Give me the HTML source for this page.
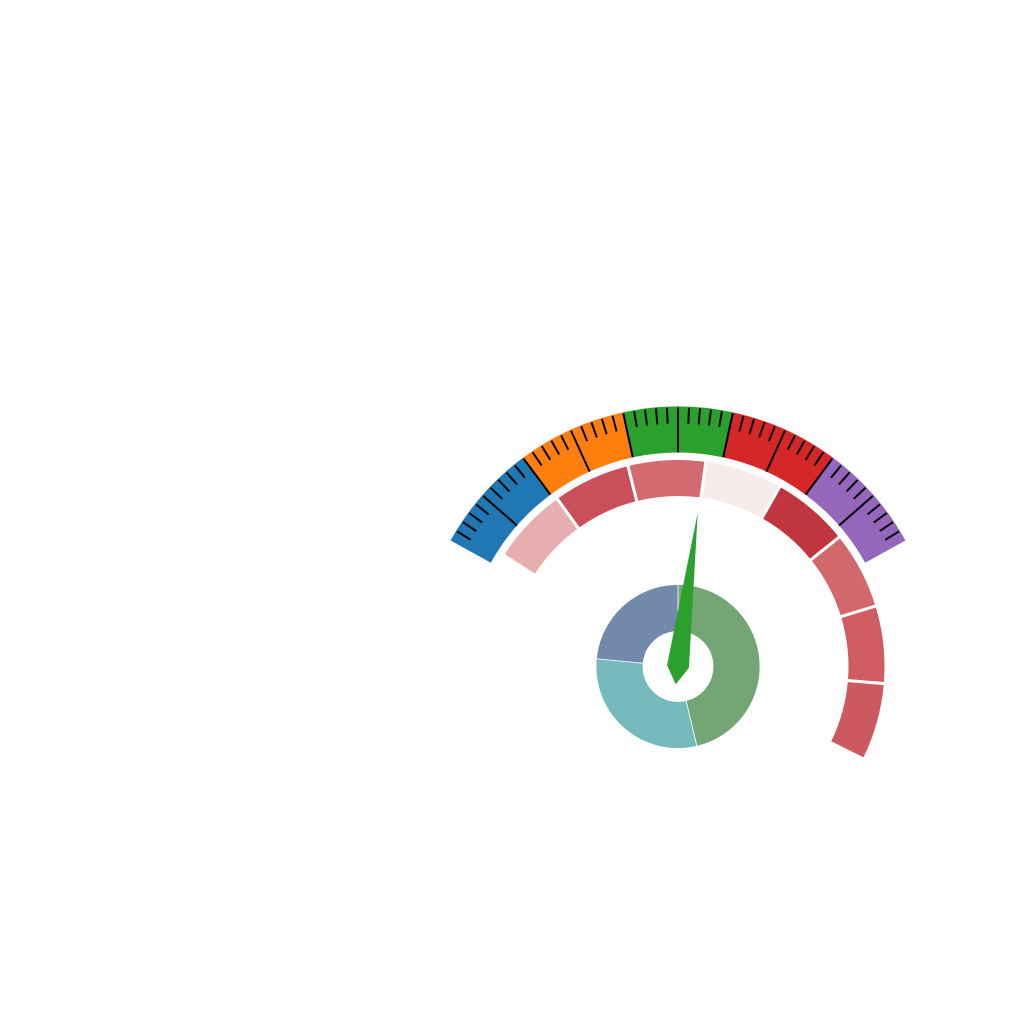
<!DOCTYPE html>
<html><head><meta charset="utf-8"><style>html,body{margin:0;padding:0;background:#fff}svg{display:block}</style></head>
<body>
<svg id="chart" width="1024" height="1024" viewBox="0 0 1024 1024" xmlns="http://www.w3.org/2000/svg"></svg>
<script>
// gauge scale
const gaugeMin = 0, gaugeMax = 100;
const bandBreaks = [0, 20, 40, 60, 80, 100];
const bandColors = ["#1f77b4", "#ff7f0e", "#2ca02c", "#d62728", "#9467bd"];
const needleValue = 56;
// inner ring segments
const ringValues = [1, 1, 1, 1, 1, 1, 1, 1];
const ringColors = ["#e6aeb1", "#c94f58", "#d26a6f", "#f7eceb", "#c1363e", "#d2686b", "#cf5c62", "#cd5960"];
// donut
const donutLabels = ["A", "B", "C"];
const donutValues = [46.3, 30.2, 23.5];
const donutColors = ["#74a574", "#75b9bd", "#7389ab"];

const NS = "http://www.w3.org/2000/svg";
const svg = document.getElementById("chart");
const cx = 678, cy = 666.5;
const gStart = 151, gEnd = 29;
function valToAng(v){ return gStart + (v - gaugeMin) / (gaugeMax - gaugeMin) * (gEnd - gStart); }
function pt(r, a){ const t = a * Math.PI / 180; return [cx + r * Math.cos(t), cy - r * Math.sin(t)]; }
function arcPath(r0, r1, a0, a1){
  const p0 = pt(r1, a0), p1 = pt(r1, a1), p2 = pt(r0, a1), p3 = pt(r0, a0);
  const large = Math.abs(a1 - a0) > 180 ? 1 : 0;
  const sw = a1 < a0 ? 1 : 0;
  return `M${p0}A${r1},${r1} 0 ${large} ${sw} ${p1}L${p2}A${r0},${r0} 0 ${large} ${1-sw} ${p3}Z`;
}
function mk(tag, attrs){ const e = document.createElementNS(NS, tag); for (const k in attrs) e.setAttribute(k, attrs[k]); svg.appendChild(e); return e; }

// outer bands
const R0 = 214, R1 = 260;
for (let i = 0; i < bandColors.length; i++) {
  const e = mk("path", {d: arcPath(R0, R1, valToAng(bandBreaks[i]), valToAng(bandBreaks[i+1])), fill: bandColors[i]});
  
  
}
// ticks
const nTicks = 50;
for (let k = 1; k < nTicks; k++) {
  const v = gaugeMin + (gaugeMax - gaugeMin) * k / nTicks;
  const a = valToAng(v);
  const major = k % 5 === 0;
  const p0 = pt(major ? R0 : R1 - 17, a), p1 = pt(R1 - 1, a);
  const e = mk("line", {x1: p0[0], y1: p0[1], x2: p1[0], y2: p1[1], stroke: "#000", "stroke-width": 2});
  
  
}
// inner ring
const rStart = 147.5, rEnd = -26.5;
const rTot = ringValues.reduce((s, v) => s + v, 0);
let acc = 0;
for (let i = 0; i < ringValues.length; i++) {
  const a0 = rStart + (rEnd - rStart) * acc / rTot;
  acc += ringValues[i];
  const a1 = rStart + (rEnd - rStart) * acc / rTot;
  const e = mk("path", {d: arcPath(169, 208, a0, a1), fill: ringColors[i], stroke: "#fff", "stroke-width": 3});
  
  
}
// donut
const dTot = donutValues.reduce((s, v) => s + v, 0);
let dacc = 0;
for (let i = 0; i < donutValues.length; i++) {
  const a0 = 90 - 360 * dacc / dTot;
  dacc += donutValues[i];
  const a1 = 90 - 360 * dacc / dTot;
  const e = mk("path", {d: arcPath(35, 82, a0, a1), fill: donutColors[i], stroke: "#fff", "stroke-width": 0.8});
  
  
}
// needle
const na = valToAng(needleValue) * Math.PI / 180;
const ux = Math.cos(na), uy = -Math.sin(na), nx = -uy, ny = ux;
function np(al, pe){ return [cx + ux * al + nx * pe, cy + uy * al + ny * pe].join(","); }
const needle = mk("polygon", {points: [np(155, 0), np(0, 11), np(-18, 0), np(0, -11)].join(" "), fill: "#2ca02c"});


</script>
</body></html>
